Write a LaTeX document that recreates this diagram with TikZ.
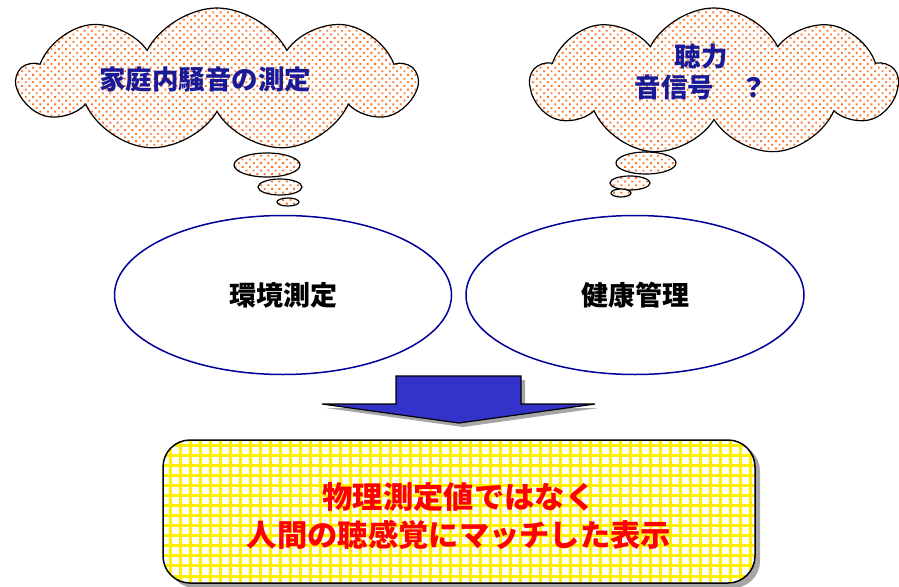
\documentclass[tikz,border=0pt]{standalone}
\usepackage{fontspec}
\newfontfamily\cjk{Noto Sans CJK JP}
\usetikzlibrary{shapes.symbols,shapes.geometric,patterns.meta}
\definecolor{navy}{RGB}{0,0,153}
\definecolor{txtblue}{RGB}{26,26,150}
\definecolor{dotorange}{RGB}{255,120,40}
\definecolor{arrowblue}{RGB}{51,51,204}
\definecolor{gridyellow}{RGB}{255,240,0}
\tikzset{
  dotfill/.style={preaction={fill=white},pattern={Dots[distance=5.2pt,angle=45,radius=1.35pt]},pattern color=dotorange},
  thought/.style={cloud,draw=black,line width=1.2pt,dotfill,cloud puffs=9,cloud puff arc=125,aspect=2.7,inner sep=0pt},
  bubble/.style={ellipse,draw=black,line width=1.2pt,dotfill,inner sep=0pt},
  topic/.style={ellipse,draw=navy,line width=1.5pt,fill=white,inner sep=0pt},
  ctext/.style={font=\cjk\bfseries\fontsize{26.5}{31}\selectfont,text=txtblue,align=center},
  etext/.style={font=\cjk\bfseries\fontsize{27}{31}\selectfont,text=black},
  rtext/.style={font=\cjk\bfseries\fontsize{30.3}{38}\selectfont,text=red,align=center}
}
\begin{document}
\begin{tikzpicture}[x=1pt,y=-1pt]
\useasboundingbox (0,0) rectangle (899,586);
% clouds
\node[thought,minimum width=397pt,minimum height=144pt,shape border rotate=10] (c1) at (217,80) {};
\node[bubble,minimum width=66pt,minimum height=24pt] (b11) at (267,165) {};
\node[bubble,minimum width=44pt,minimum height=16pt] (b12) at (280,187) {};
\node[bubble,minimum width=22pt,minimum height=8pt] (b13) at (288,202) {};
\node[ctext] (t1) at (205,80) {家庭内騒音の測定};
\node[thought,minimum width=366pt,minimum height=148pt,shape border rotate=10] (c2) at (714,82) {};
\node[bubble,minimum width=60pt,minimum height=22pt] (b21) at (646,163) {};
\node[bubble,minimum width=40pt,minimum height=14pt] (b22) at (630,183) {};
\node[bubble,minimum width=20pt,minimum height=8pt] (b23) at (621,193) {};
\node[ctext] (t2) at (701,72) {聴力\\音信号　？};
% ellipses
\node[topic,minimum width=337pt,minimum height=159pt] (e1) at (283,295) {};
\node[etext] at (e1.center) {環境測定};
\node[topic,minimum width=338pt,minimum height=159pt] (e2) at (635,295) {};
\node[etext] at (e2.center) {健康管理};
% arrow
\coordinate (a1) at (396,376);
\fill[gray!70] ([shift={(4,4)}]a1) -- (525,380) -- (525,408) -- (599,408) -- (463,427) -- (326,408) -- (400,408) -- cycle;
\draw[fill=arrowblue,line width=1.2pt,line join=miter] (a1) -- (521,376) -- (521,404) -- (595,404) -- (459,423) -- (322,404) -- (396,404) -- cycle;
% result box
\fill[gray!70,rounded corners=27pt] (168,444) rectangle (760,588);
\node[draw=black,line width=1.5pt,rounded corners=27pt,minimum width=592pt,minimum height=143pt,preaction={fill=white},pattern={Hatch[distance=10pt,angle=0,line width=3pt]},pattern color=gridyellow] (r) at (459,511.5) {};
\node[rtext] at (459,516) {物理測定値ではなく\\人間の聴感覚にマッチした表示};
\end{tikzpicture}
\end{document}
